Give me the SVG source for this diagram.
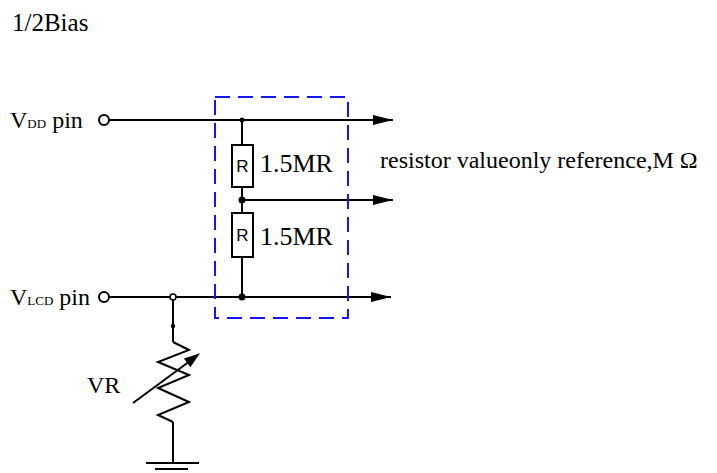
<svg xmlns="http://www.w3.org/2000/svg" width="717" height="473" viewBox="0 0 717 473">
<style>
.w{stroke:#000;stroke-width:2;fill:none}
.t{font-family:'Liberation Serif','DejaVu Serif','Times New Roman',serif;fill:#000}
.s{font-family:'Liberation Sans','DejaVu Sans',Arial,sans-serif;fill:#000;font-size:17px}
.dot{fill:#000}
.box{stroke:#1414ff;stroke-width:2;fill:none;stroke-dasharray:15 8}
</style>
<defs>
<marker id="arr" markerWidth="20" markerHeight="10" refX="20" refY="5" orient="auto" markerUnits="userSpaceOnUse">
<path d="M0,0 L20,5 L0,10 Z" fill="#000"/>
</marker>
</defs>
<rect width="717" height="473" fill="#fff"/>
<text id="title" class="t" font-family="Liberation Serif, serif" x="12" y="31" font-size="25">1/2Bias</text>
<g id="connectors">
<line class="w" x1="109.5" y1="120" x2="393" y2="120" marker-end="url(#arr)"/>
<line class="w" x1="242" y1="200" x2="393" y2="200" marker-end="url(#arr)"/>
<line class="w" x1="109.5" y1="297" x2="391" y2="297" marker-end="url(#arr)"/>
<line class="w" x1="242" y1="120" x2="242" y2="145"/>
<line class="w" x1="242" y1="187" x2="242" y2="213"/>
<line class="w" x1="242" y1="257" x2="242" y2="297"/>
<line class="w" x1="173" y1="297" x2="173" y2="342"/>
<line class="w" x1="173" y1="422" x2="173" y2="463"/>
</g>
<g id="vdd_pin">
<text class="t" font-family="Liberation Serif, serif" x="10" y="128" font-size="24">V<tspan font-size="13">DD</tspan> pin</text>
<circle class="w" cx="104" cy="120" r="5"/>
</g>
<g id="vlcd_pin">
<text class="t" font-family="Liberation Serif, serif" x="10" y="305" font-size="24">V<tspan font-size="13">LCD</tspan> pin</text>
<circle class="w" cx="104" cy="297" r="5"/>
</g>
<g id="divider_box">
<rect class="box" x="215" y="97" width="133" height="221"/>
</g>
<g id="r1">
<rect class="w" x="232" y="145" width="21" height="42" fill="#fff"/>
<text class="s" x="242.5" y="172" text-anchor="middle">R</text>
<text class="t" font-family="Liberation Serif, serif" x="260" y="172" font-size="26">1.5MR</text>
</g>
<g id="r2">
<rect class="w" x="232" y="213" width="21" height="44" fill="#fff"/>
<text class="s" x="242.5" y="241" text-anchor="middle">R</text>
<text class="t" font-family="Liberation Serif, serif" x="260" y="245" font-size="26">1.5MR</text>
</g>
<g id="junctions">
<circle class="dot" cx="242" cy="120" r="2.5"/>
<circle class="dot" cx="242" cy="200" r="3.5"/>
<circle class="dot" cx="242" cy="297" r="3.5"/>
<circle cx="173" cy="297" r="3" fill="#fff" stroke="#000" stroke-width="1.5"/>
<circle class="dot" cx="173" cy="326" r="2.2"/>
</g>
<g id="vr">
<polyline class="w" points="173,342 189,350 158,362 189,375 158,388 189,402 158,415 173,422"/>
<line class="w" x1="133" y1="403" x2="190" y2="361"/>
<polygon points="200,353.3 190.4,367.2 183.9,358.4" fill="#000"/>
<text class="t" font-family="Liberation Serif, serif" x="87" y="393" font-size="24">VR</text>
</g>
<g id="ground">
<line class="w" x1="146" y1="463" x2="199" y2="463"/>
<line class="w" x1="155" y1="469" x2="188" y2="469"/>
</g>
<text id="note" class="t" font-family="Liberation Serif, serif" x="380" y="168" font-size="24">resistor valueonly reference,M Ω</text>
</svg>
